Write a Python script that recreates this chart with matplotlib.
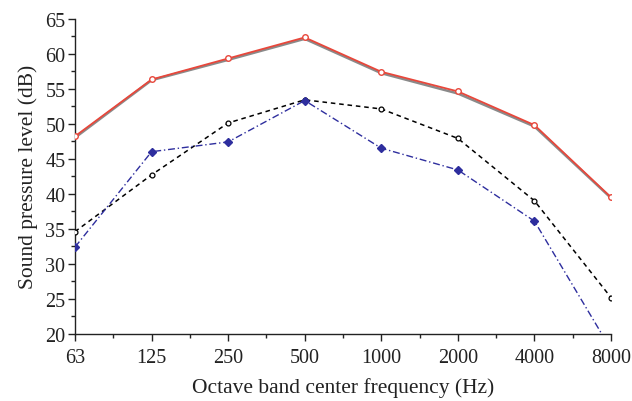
import matplotlib
matplotlib.use("Agg")
import matplotlib.pyplot as plt
from matplotlib.ticker import MultipleLocator, FixedLocator

plt.rcParams['font.family'] = ['Liberation Serif', 'DejaVu Serif']

freqs = ["63", "125", "250", "500", "1000", "2000", "4000", "8000"]
red_vals = [48.2, 56.3, 59.3, 62.3, 57.4, 54.6, 49.8, 39.5]
grey_vals = [48.0, 56.2, 59.1, 62.1, 57.2, 54.3, 49.6, 39.4]
black_vals = [34.6, 42.7, 50.1, 53.4, 52.1, 47.9, 39.0, 25.2]
blue_vals = [32.4, 46.0, 47.4, 53.3, 46.5, 43.4, 36.1, 17.8]

x = list(range(len(freqs)))

fig = plt.figure(figsize=(6.32, 4.02), dpi=100)
ax = fig.add_axes([75/632, 1 - 335/402, (611-75)/632, (335-19.5)/402])

ax.plot(x, grey_vals, color='#8a8a8a', lw=1.8, zorder=2)
ax.plot(x, red_vals, color='#e8473b', lw=1.3, marker='o', ms=4,
        mfc='white', mec='#e8473b', mew=1.0, zorder=3)
ax.plot(x, black_vals, color='black', lw=1.1, ls=(0, (3, 2.5)), marker='o', ms=3.5,
        mfc='white', mec='black', mew=0.9, zorder=3)
ax.plot(x, blue_vals, color='#2e2e9e', lw=1.0, ls=(0, (5, 2, 1, 2)), marker='D', ms=3.8,
        mfc='#2e2e9e', mec='#2e2e9e', zorder=4)

ax.set_xlim(0, len(freqs) - 1)
ax.set_ylim(20, 65)
ax.set_xticks(x)
ax.set_xticklabels(freqs)
ax.xaxis.set_minor_locator(FixedLocator([i + 0.5 for i in x[:-1]]))
ax.yaxis.set_major_locator(MultipleLocator(5))
ax.yaxis.set_minor_locator(MultipleLocator(2.5))

for s in ['top', 'right']:
    ax.spines[s].set_visible(False)
for s in ['left', 'bottom']:
    ax.spines[s].set_linewidth(1.0)
    ax.spines[s].set_color('#222222')

ax.tick_params(axis='both', which='major', direction='out', length=5, width=1.0,
               labelsize=14.5, colors='#222222', labelcolor='#222222')
ax.tick_params(axis='both', which='minor', direction='out', length=3, width=1.0,
               colors='#222222')
ax.tick_params(axis='x', pad=5)
ax.tick_params(axis='y', pad=2)

ax.set_xlabel("Octave band center frequency (Hz)", fontsize=15.5, color='#222222', labelpad=7)
ax.set_ylabel("Sound pressure level (dB)", fontsize=15.5, color='#222222', labelpad=5)

fig.savefig("out.png", dpi=100)
